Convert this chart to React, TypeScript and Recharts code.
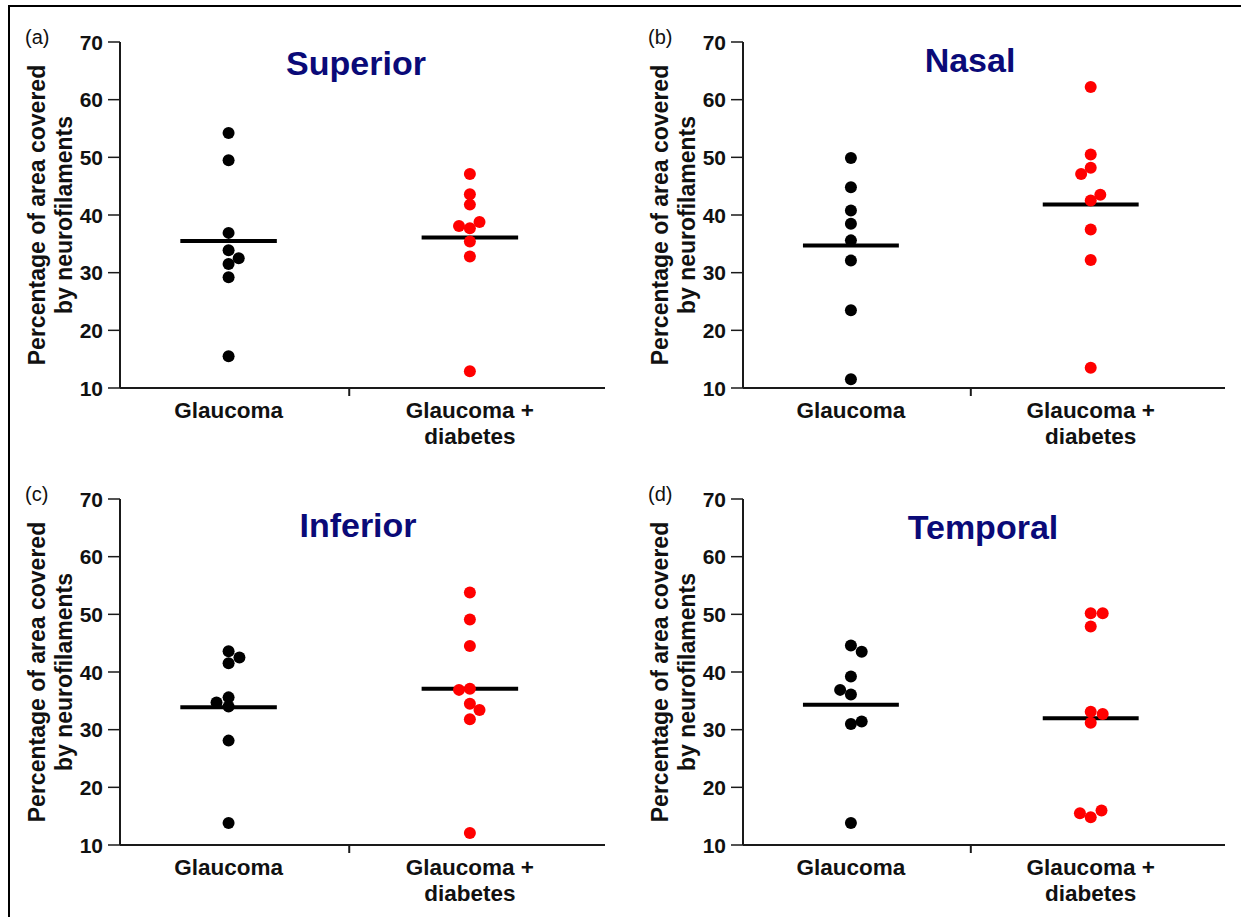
import React from 'react';
import { ComposedChart, Scatter, XAxis, YAxis, ReferenceLine } from 'recharts';

const categories = ['Glaucoma', 'Glaucoma + diabetes'];
const categoryLines = [['Glaucoma'], ['Glaucoma +', 'diabetes']];
const yTicks = [10, 20, 30, 40, 50, 60, 70];

// Superior
const superiorGlaucoma = [54.2, 49.5, 36.9, 33.9, 32.5, 31.5, 29.2, 15.5];
const superiorGlaucomaJitter = [0, 0, 0, 0, 0.042, 0, 0, 0];
const superiorDiabetes = [47.1, 43.6, 41.8, 38.8, 38.1, 37.7, 35.4, 32.8, 12.9];
const superiorDiabetesJitter = [0, 0, 0, 0.04, -0.045, 0, 0, 0, 0];
const superiorMedians = [35.5, 36.1];

// Nasal
const nasalGlaucoma = [49.9, 44.8, 40.8, 38.5, 35.6, 32.1, 23.5, 11.5];
const nasalGlaucomaJitter = [0, 0, 0, 0, 0, 0, 0, 0];
const nasalDiabetes = [62.2, 50.5, 48.2, 47.1, 43.5, 42.5, 37.5, 32.2, 13.5];
const nasalDiabetesJitter = [0, 0, 0, -0.04, 0.04, 0, 0, 0, 0];
const nasalMedians = [34.7, 41.8];

// Inferior
const inferiorGlaucoma = [43.6, 42.5, 41.5, 35.6, 34.7, 34.0, 28.1, 13.8];
const inferiorGlaucomaJitter = [0, 0.045, 0, 0, -0.05, 0, 0, 0];
const inferiorDiabetes = [53.8, 49.1, 44.5, 37.1, 36.9, 34.5, 33.4, 31.8, 12.1];
const inferiorDiabetesJitter = [0, 0, 0, 0, -0.045, 0, 0.04, 0, 0];
const inferiorMedians = [33.9, 37.1];

// Temporal
const temporalGlaucoma = [44.6, 43.5, 39.2, 36.9, 36.1, 31.4, 31.0, 13.8];
const temporalGlaucomaJitter = [0, 0.045, 0, -0.045, 0, 0.045, 0, 0];
const temporalDiabetes = [50.2, 50.2, 47.9, 33.1, 32.7, 31.2, 15.5, 14.8, 16.0];
const temporalDiabetesJitter = [0, 0.05, 0, 0, 0.05, 0, -0.045, 0, 0.045];
const temporalMedians = [34.3, 32.0];

const FONT = '"Liberation Sans", Arial, Helvetica, sans-serif';
const AXIS = '#1a1a1a';

const toPoints = (values: number[], jitter: number[], ci: number) =>
  values.map((v, i) => ({ x: ci + 0.5 + jitter[i], y: v }));

const dot = (color: string) => (p: any) => (
  <circle cx={p.cx} cy={p.cy} r={6} fill={color} />
);

const renderXTick = (props: any) => {
  const { x, y, payload } = props;
  if (payload.value === 1) {
    return <line x1={x} x2={x} y1={y} y2={y + 8} stroke={AXIS} strokeWidth={2} />;
  }
  const lines = categoryLines[payload.value < 1 ? 0 : 1];
  return (
    <text textAnchor="middle" fontFamily={FONT} fontSize={22.5} fontWeight="bold" fill="#111">
      {lines.map((l, i) => (
        <tspan key={i} x={x} y={y + 30 + i * 26}>
          {l}
        </tspan>
      ))}
    </text>
  );
};

const renderYTick = (props: any) => {
  const { x, y, payload } = props;
  return (
    <text
      x={x}
      y={y}
      dy={7.5}
      textAnchor="end"
      fontFamily={FONT}
      fontSize={21}
      fontWeight="bold"
      fill="#111"
    >
      {payload.value}
    </text>
  );
};

interface PanelProps {
  left: number;
  top: number;
  letter: string;
  title: string;
  titleX: number;
  titleY: number;
  plotLeft: number;
  glaucoma: number[];
  glaucomaJitter: number[];
  diabetes: number[];
  diabetesJitter: number[];
  medians: number[];
}

function Panel(p: PanelProps) {
  const width = 620;
  const height = 458;
  const plotTop = 42;
  const plotHeight = 346;
  const plotRight = 15;
  const g = toPoints(p.glaucoma, p.glaucomaJitter, 0);
  const d = toPoints(p.diabetes, p.diabetesJitter, 1);
  const midY = plotTop + plotHeight / 2;
  return (
    <div style={{ position: 'absolute', left: p.left, top: p.top, width, height }}>
      <ComposedChart
        width={width}
        height={height}
        margin={{ top: plotTop, right: plotRight, left: p.plotLeft - 60, bottom: height - plotTop - plotHeight - 60 }}
      >
        <XAxis
          type="number"
          dataKey="x"
          domain={[0.05, 2.06]}
          ticks={[0.5, 1, 1.5]}
          interval={0}
          allowDataOverflow
          height={60}
          tickLine={false}
          tickSize={0}
          tickMargin={0}
          axisLine={{ stroke: AXIS, strokeWidth: 2 }}
          tick={renderXTick}
        />
        <YAxis
          type="number"
          dataKey="y"
          domain={[10, 70]}
          ticks={yTicks}
          interval={0}
          width={60}
          tickSize={12}
          tickMargin={5}
          axisLine={{ stroke: AXIS, strokeWidth: 2 }}
          tickLine={{ stroke: AXIS, strokeWidth: 1.5 }}
          tick={renderYTick}
        />
        <Scatter name={categories[0]} data={g} fill="#000" shape={dot('#000')} isAnimationActive={false} />
        <Scatter name={categories[1]} data={d} fill="#ff0000" shape={dot('#ff0000')} isAnimationActive={false} />
        {p.medians.map((m, ci) => (
          <ReferenceLine
            key={ci}
            segment={[
              { x: ci + 0.3, y: m },
              { x: ci + 0.7, y: m },
            ]}
            stroke="#000"
            strokeWidth={4}
          />
        ))}
      </ComposedChart>
      <svg
        width={width}
        height={height}
        style={{ position: 'absolute', left: 0, top: 0, pointerEvents: 'none' }}
      >
        <text x={p.left === 0 ? 25 : 28} y={44} fontFamily={FONT} fontSize={20} fill="#111">
          {p.letter}
        </text>
        <text
          x={p.titleX}
          y={p.titleY}
          textAnchor="middle"
          fontFamily={FONT}
          fontSize={34}
          fontWeight="bold"
          fill="#0a0a78"
        >
          {p.title}
        </text>
        <text
          transform={`translate(${p.plotLeft - 83}, ${midY}) rotate(-90)`}
          textAnchor="middle"
          dominantBaseline="central"
          fontFamily={FONT}
          fontSize={23}
          fontWeight="bold"
          fill="#111"
        >
          Percentage of area covered
        </text>
        <text
          transform={`translate(${p.plotLeft - 56}, ${midY}) rotate(-90)`}
          textAnchor="middle"
          dominantBaseline="central"
          fontFamily={FONT}
          fontSize={23}
          fontWeight="bold"
          fill="#111"
        >
          by neurofilaments
        </text>
      </svg>
    </div>
  );
}

export default function App() {
  return (
    <div style={{ position: 'absolute', left: 0, top: 0, width: 1241, height: 917, background: '#fff', overflow: 'hidden' }}>
      <div
        style={{
          position: 'absolute',
          left: 8,
          top: 5,
          width: 1233,
          height: 912,
          borderTop: '2px solid #000',
          borderLeft: '2px solid #000',
          boxSizing: 'border-box',
        }}
      />
      <Panel
        left={0}
        top={0}
        letter="(a)"
        title="Superior"
        titleX={356}
        titleY={75}
        plotLeft={120}
        glaucoma={superiorGlaucoma}
        glaucomaJitter={superiorGlaucomaJitter}
        diabetes={superiorDiabetes}
        diabetesJitter={superiorDiabetesJitter}
        medians={superiorMedians}
      />
      <Panel
        left={620}
        top={0}
        letter="(b)"
        title="Nasal"
        titleX={350}
        titleY={72}
        plotLeft={123}
        glaucoma={nasalGlaucoma}
        glaucomaJitter={nasalGlaucomaJitter}
        diabetes={nasalDiabetes}
        diabetesJitter={nasalDiabetesJitter}
        medians={nasalMedians}
      />
      <Panel
        left={0}
        top={457}
        letter="(c)"
        title="Inferior"
        titleX={358}
        titleY={80}
        plotLeft={120}
        glaucoma={inferiorGlaucoma}
        glaucomaJitter={inferiorGlaucomaJitter}
        diabetes={inferiorDiabetes}
        diabetesJitter={inferiorDiabetesJitter}
        medians={inferiorMedians}
      />
      <Panel
        left={620}
        top={457}
        letter="(d)"
        title="Temporal"
        titleX={363}
        titleY={82}
        plotLeft={123}
        glaucoma={temporalGlaucoma}
        glaucomaJitter={temporalGlaucomaJitter}
        diabetes={temporalDiabetes}
        diabetesJitter={temporalDiabetesJitter}
        medians={temporalMedians}
      />
    </div>
  );
}
